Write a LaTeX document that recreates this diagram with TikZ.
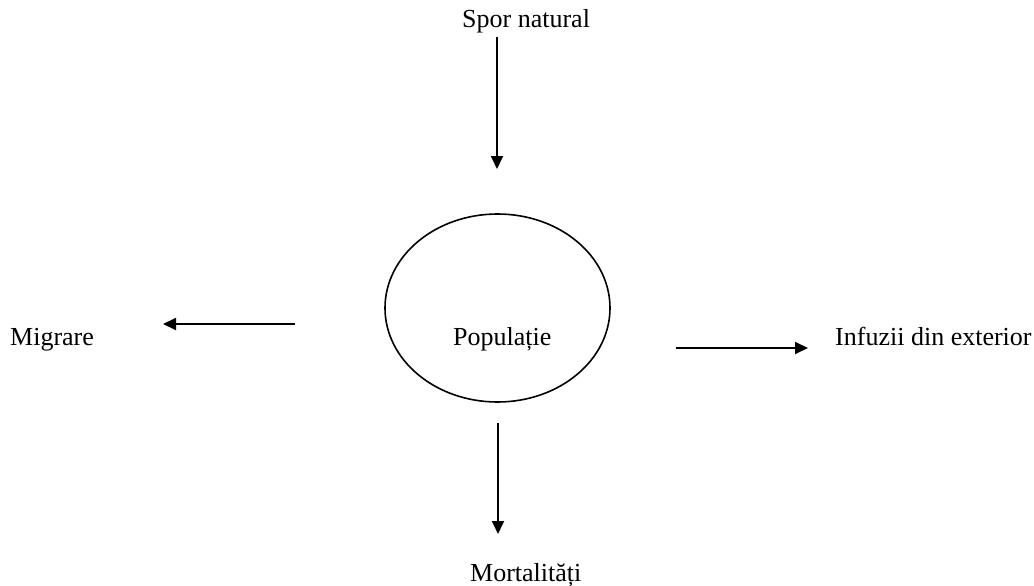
\documentclass[tikz,border=0pt]{standalone}
\usepackage{fontspec}
\setmainfont{Liberation Serif}
\usetikzlibrary{arrows.meta}
\usetikzlibrary{shapes.geometric}
\tikzset{
  lbl/.style={inner sep=0pt, anchor=base west, font=\fontsize{26}{30}\selectfont},
  flow/.style={line width=1.8pt, -{Triangle[length=13pt,width=12pt]}},
  popbox/.style={draw, line width=1.6pt, ellipse, minimum width=225pt, minimum height=188pt, inner sep=0pt}
}
\begin{document}
\begin{tikzpicture}[x=1pt,y=-1pt]
\useasboundingbox (0,0) rectangle (1034,586);
\node[popbox] (pop) at (497.5,308) {};
\node[lbl] (poplbl) at (453,345) {Populație};
\node[lbl] (spor) at (462,28) {Spor natural};
\node[lbl] (migr) at (10,345) {Migrare};
\node[lbl] (inf) at (835,345) {Infuzii din exterior};
\node[lbl] (mort) at (470,581) {Mortalități};
\coordinate (a1s) at (497,37);
\coordinate (a1e) at (497,169);
\coordinate (a2s) at (295,324);
\coordinate (a2e) at (163,324);
\coordinate (a3s) at (676,348);
\coordinate (a3e) at (808,348);
\coordinate (a4s) at (498,423);
\coordinate (a4e) at (498,534);
\draw[flow] (a1s) -- (a1e);
\draw[flow] (a2s) -- (a2e);
\draw[flow] (a3s) -- (a3e);
\draw[flow] (a4s) -- (a4e);
\end{tikzpicture}
\end{document}
